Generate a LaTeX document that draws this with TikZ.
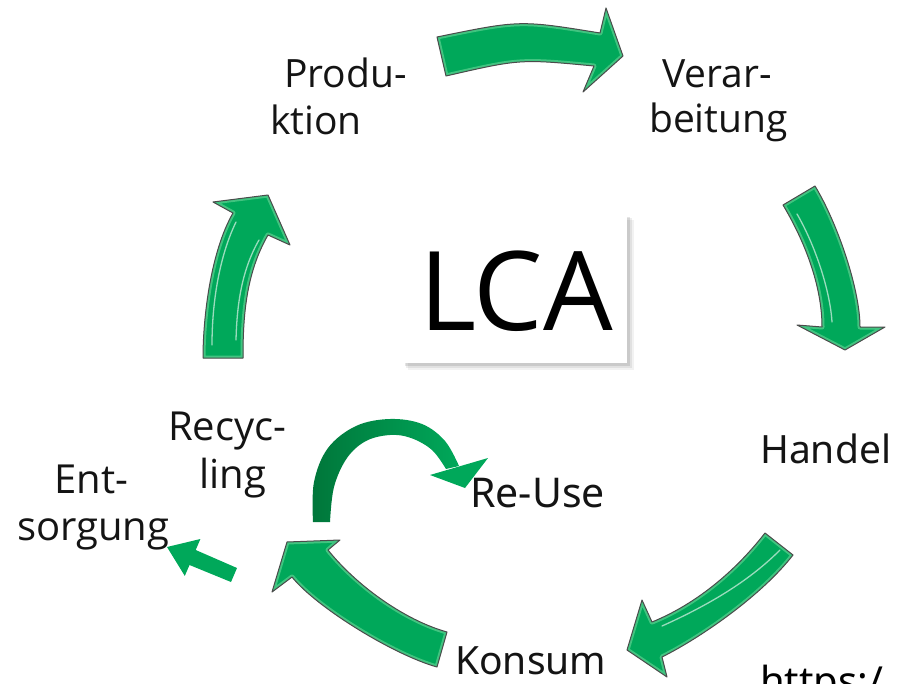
\documentclass[tikz,border=0pt]{standalone}
\usepackage{fontspec}
\setmainfont{Open Sans}
\newfontfamily\notosans{Noto Sans}
\definecolor{ag}{RGB}{0,168,90}
\definecolor{aglight}{RGB}{120,220,160}
\definecolor{agline}{RGB}{75,75,75}
\definecolor{agdark}{RGB}{0,118,58}
\definecolor{txt}{RGB}{20,20,20}
\newcommand\bevelarrow[1]{%
  \fill[ag] #1;
  \begin{scope}\clip #1; \draw[aglight,opacity=0.55,line width=5pt,line join=round] #1;\end{scope}
  \draw[agline,line width=1pt,line join=round] #1;}
\begin{document}
\begin{tikzpicture}[x=1pt,y=-1pt,
  lbl/.style={anchor=base west,inner sep=0pt,text=txt,font=\fontsize{39}{47}\selectfont},
  lblb/.style={lbl,font=\fontsize{40}{48}\selectfont},
  lbln/.style={lbl,font=\notosans\fontsize{39}{47}\selectfont},
  gloss/.style={draw=white,opacity=0.6,line width=1.3pt,line cap=round}]
\useasboundingbox (0,0) rectangle (909,684);

% LCA box with shadow
\fill[black,opacity=0.05] (408,220) rectangle (634,370);
\fill[black,opacity=0.07] (406,218) rectangle (632,368);
\fill[black,opacity=0.10] (405,217) rectangle (630,366);
\fill[white] (403,215) rectangle (627,363);
\node[anchor=base,inner sep=0pt,text=black,font=\fontsize{110}{120}\selectfont] (lca) at (516,330) {LCA};

% Arrow 1: Produktion -> Verarbeitung
\bevelarrow{(437,37) .. controls (520,20) .. (600,33) -- (606,8) -- (623,56) -- (583,92) -- (594,66) .. controls (520,59) .. (446,76) -- cycle}
% Arrow 2: Verarbeitung -> Handel
\bevelarrow{(783,205) -- (815,186) .. controls (838,224) and (860,290) .. (860,327) -- (885,327) -- (845,350) -- (797,325) -- (822,327) .. controls (822,290) and (808,247) .. (783,205) -- cycle}
% Arrow 3: Handel -> Konsum
\bevelarrow{(765,533) .. controls (730,578) and (689,607) .. (652,622) -- (642,600) -- (627,650) -- (667,677) -- (662,657) .. controls (702,637) and (762,595) .. (793,555) -- cycle}
% Arrow 4: Konsum -> Recycling
\bevelarrow{(447,632) .. controls (404,620) and (356,585) .. (328,550) -- (340,540) -- (287,542) -- (272,592) -- (292,577) .. controls (317,608) and (394,655) .. (437,667) -- cycle}
% Arrow 5: Recycling -> Produktion
\bevelarrow{(233,213) .. controls (210.5,252) and (203,318) .. (203,358) -- (243,358) .. controls (243,318) and (245.5,274) .. (268,235) -- (290,245) -- (268,195) -- (213,202) -- (233,213) -- cycle}

% gloss highlights
\draw[gloss] (212,345) .. controls (212,300) and (220,255) .. (236,222);
\draw[gloss] (236,340) .. controls (237,300) and (243,268) .. (259,240);
\draw[gloss] (780,550) .. controls (755,575) and (720,600) .. (662,626);
\draw[gloss] (797,214) .. controls (815,245) and (830,290) .. (832,322);

% Arrow 6: to Entsorgung
\fill[ag] (237,568) -- (195.7,550) -- (200.4,539) -- (167,547) -- (184.8,575.9) -- (189.5,565) -- (231,582) -- cycle;

% Arrow 7: Re-Use curve
\shade[left color=agdark,right color=ag] plot[smooth,tension=0.6] coordinates {(313,522) (314,482) (328,448) (356,426) (390,419) (422,424) (445,441) (459,466)} -- plot[smooth,tension=0.6] coordinates {(446,469) (432,450) (411,438) (390,435) (366,441) (347,458) (334,487) (330,522)} -- cycle;
\fill[ag] (430,475) -- (488,458) -- (465,488) -- cycle;

% labels
\node[lbl] (prod1) at (284,88) {Produ-};
\node[lbl] (prod2) at (270,135) {ktion};
\node[lbl] (vera1) at (662,88) {Verar-};
\node[lbl] (vera2) at (649,133) {beitung};
\node[lbln] (handel) at (760,463) {Handel};
\node[lbln] (konsum) at (455,674) {Konsum};
\node[lbln,font=\notosans\fontsize{41}{48}\selectfont] (reuse) at (470,507) {Re-Use};
\node[lblb] (rec1) at (168,440) {Recyc-};
\node[lblb] (rec2) at (199,488) {ling};
\node[lblb] (ent1) at (54,493) {Ent-};
\node[lblb] (ent2) at (17,540) {sorgung};
\node[anchor=base west,inner sep=0pt,text=black,font=\notosans\bfseries\fontsize{40}{48}\selectfont] (url) at (760,695) {https:/};
\end{tikzpicture}
\end{document}
